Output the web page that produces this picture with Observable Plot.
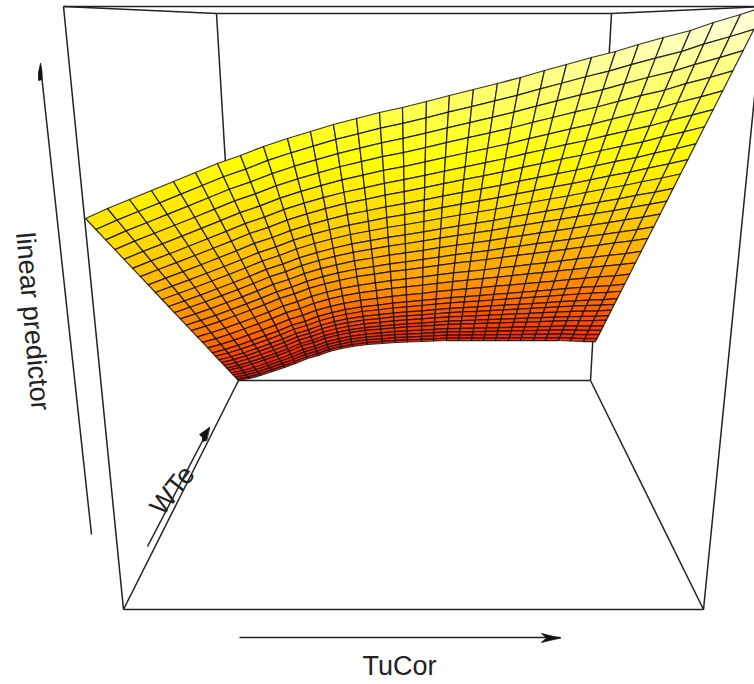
<!DOCTYPE html>
<html><head><meta charset="utf-8">
<style>html,body{margin:0;padding:0;background:#fff}svg{display:block}</style>
<script src="https://cdn.jsdelivr.net/npm/d3@7"></script>
<script src="https://cdn.jsdelivr.net/npm/@observablehq/plot@0.6"></script>
</head><body><script>
// mesh columns: where each of the 30 columns meets the far (top) and near (bottom) edge of the surface
const topX=[85,107,129,151,173,195,217,240,263,287,310,333,356,379,402,426,449,473,497,520,544,566,591,615,638,663,690,713,740,765];
const topY=[218,208,199,190,181,172,163,155,146,138,131,124,118,112,107,101,95,89,83,77,70,64,57,51,44,37,30,22,14,6];
const bottomX=[238,249,260,272,284,295,307,318,329,341,352,367,382,395,407,421,433,446,458,471,483,495,508,520,533,545,558,570,583,595];
const bottomY=[380,378,375,371,367,363,358,355,351,348,346,344,343,342,341.5,341,340.5,340,340,340,340,340,340,340,340,340,340,340.5,341,341];
// position of each of the 30 rows between the two edges
const rowFractions=[0,.068,.132,.192,.252,.308,.359,.41,.457,.5,.543,.581,.62,.658,.692,.731,.765,.799,.829,.85,.872,.889,.906,.923,.936,.953,.966,.979,.991,1];
// colour level read at left / centre / right of the surface for some rows
const levelRows=[0,.25,.5,.75,.9,1];
const levelLeft=[.68,.61,.49,.33,.16,.05];
const levelCentre=[.84,.75,.62,.47,.22,.10];
const levelRight=[.98,.84,.70,.50,.28,.12];
// box edges
const backEdges=[[63,6,216,13],[763,6,611,13],[216,13,611,13],[216,13,238,380],[611,13,590,380],[238,380,590,380],[123,609,238,380],[703,609,590,380]];
const frontEdges=[[63,6,763,6],[63,6,123,609],[763,6,703,609],[123,609,703,609]];
const axisArrows=[[40,65,91,534],[239,637,560,637],[147,546,209,427]];
const arrowHeads=[
 [[40,63],[38,72],[38,80],[41.5,79],[41.5,72]],
 [[560,637.5],[549,635],[541,633],[546,637.5],[541,642],[549,640]],
 [[209,427],[199,434],[202,437],[202,441],[206,440]]
];
const labels=[
 {text:"TuCor",x:399,y:666,rotate:0},
 {text:"linear predictor",x:32,y:321,rotate:85},
 {text:"WTe",x:172,y:490,rotate:-52}
];

const bump=(xs,ys,t)=>{const k=Math.min(d3.bisectRight(xs,t)-1,xs.length-2);const f=(t-xs[k])/(xs[k+1]-xs[k]);return ys[k]+(ys[k+1]-ys[k])*f;};
const vertex=(i,j)=>{const t=rowFractions[j];return [topX[i]+(bottomX[i]-topX[i])*t,topY[i]+(bottomY[i]-topY[i])*t];};
const level=(u,t)=>{
 const l=bump(levelRows,levelLeft,t),c=bump(levelRows,levelCentre,t),r=bump(levelRows,levelRight,t);
 return u<.5?l+(c-l)*u*2:c+(r-c)*(u-.5)*2;
};
const cells=[];
for(let i=0;i<topX.length-1;i++)for(let j=0;j<rowFractions.length-1;j++){
 const id=i*100+j;
 const v=level((i+.5)/(topX.length-1),(rowFractions[j]+rowFractions[j+1])/2);
 for(const [a,b] of [[i,j],[i+1,j],[i+1,j+1],[i,j+1]]){
  const [x,y]=vertex(a,b);cells.push({id,x,y,v});
 }
}
const heads=arrowHeads.flatMap((h,k)=>h.map(p=>({k,x:p[0],y:p[1]})));
const edge=(e)=>({x1:d=>d[0],y1:d=>d[1],x2:d=>d[2],y2:d=>d[3],...e});
const lineStyle={stroke:"#222",strokeWidth:1.5};
const chart=Plot.plot({
 width:754,height:684,margin:0,
 x:{domain:[0,754],range:[0,754],axis:null},
 y:{domain:[0,684],range:[0,684],axis:null},
 color:{type:"linear",domain:[0,.75,1],range:["#ff0000","#ffff00","#ffffff"]},
 marks:[
  Plot.link(backEdges,edge(lineStyle)),
  Plot.line(cells,{x:"x",y:"y",z:"id",fill:"v",stroke:"#111",strokeWidth:1.25,strokeOpacity:.85,curve:"linear-closed"}),
  Plot.link(frontEdges,edge(lineStyle)),
  Plot.link(axisArrows,edge(lineStyle)),
  Plot.line(heads,{x:"x",y:"y",z:"k",fill:"#111",stroke:"#111",strokeWidth:.8,curve:"linear-closed"}),
  ...labels.map(l=>Plot.text([l],{x:"x",y:"y",text:"text",rotate:l.rotate,fontFamily:"Liberation Sans",fontSize:27,fill:"#222",textAnchor:"middle",lineAnchor:"middle"}))
 ]
});
document.body.appendChild(chart);
</script></body></html>
